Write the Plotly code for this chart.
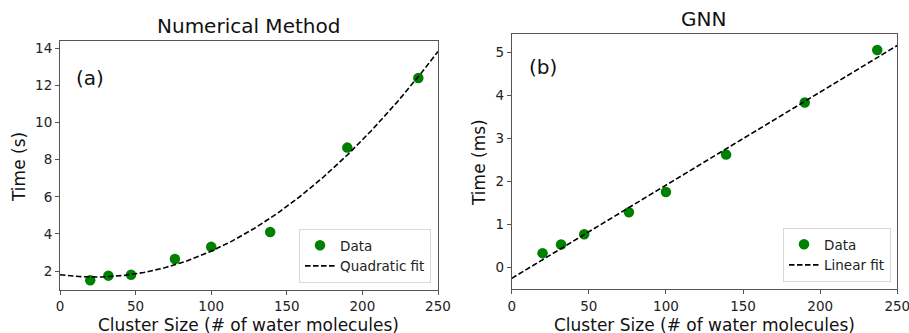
import numpy as np
import plotly.graph_objects as go

# ---- data ----
cluster_sizes = [20, 32, 47, 76, 100, 139, 190, 237]
numerical_time_s = [1.5, 1.75, 1.8, 2.65, 3.3, 4.1, 8.65, 12.4]
gnn_time_ms = [0.33, 0.53, 0.77, 1.28, 1.75, 2.62, 3.83, 5.05]
x_ticks = [0, 50, 100, 150, 200, 250]
y_ticks_a = [2, 4, 6, 8, 10, 12, 14]
y_ticks_b = [0, 1, 2, 3, 4, 5]

# fits derived from the data
xs = np.linspace(0, 250, 200)
quad = np.polyval(np.polyfit(cluster_sizes, numerical_time_s, 2), xs)
lin = np.polyval(np.polyfit(cluster_sizes, gnn_time_ms, 1), xs)

W, H = 909, 333
FONT = "DejaVu Sans"
GREEN = "#008000"
AX = "#555555"
DASH = "5.5px,2.5px"

def px_x(p):
    return p / W

def px_y(p):
    return 1 - p / H

fig = go.Figure()

fig.add_trace(go.Scatter(x=cluster_sizes, y=numerical_time_s, mode="markers",
                         marker=dict(color=GREEN, size=10.5), name="Data",
                         xaxis="x", yaxis="y", legend="legend"))
fig.add_trace(go.Scatter(x=xs, y=quad, mode="lines",
                         line=dict(color="black", dash=DASH, width=1.6),
                         name="Quadratic fit", xaxis="x", yaxis="y", legend="legend"))
fig.add_trace(go.Scatter(x=cluster_sizes, y=gnn_time_ms, mode="markers",
                         marker=dict(color=GREEN, size=10.5), name="Data",
                         xaxis="x2", yaxis="y2", legend="legend2"))
fig.add_trace(go.Scatter(x=xs, y=lin, mode="lines",
                         line=dict(color="black", dash=DASH, width=1.6),
                         name="Linear fit", xaxis="x2", yaxis="y2", legend="legend2"))

axis_common = dict(showgrid=False, zeroline=False, showline=True, linecolor=AX,
                   linewidth=1, mirror=True, ticks="outside", ticklen=4,
                   tickcolor=AX, automargin=False, ticklabeloverflow="allow",
                   tickfont=dict(family=FONT, size=13.5, color="#222"))

legend_common = dict(bgcolor="white", bordercolor="#d8d8d8", borderwidth=1,
                     font=dict(family=FONT, size=13.5, color="#222"),
                     xanchor="right", yanchor="bottom", tracegroupgap=0,
                     itemwidth=30)

fig.update_layout(
    template="none",
    width=W, height=H,
    margin=dict(l=0, r=0, t=0, b=0, autoexpand=False),
    paper_bgcolor="white", plot_bgcolor="white",
    xaxis=dict(domain=[px_x(60), px_x(438)], range=[0, 250], tickvals=x_ticks,
               anchor="y", **axis_common),
    yaxis=dict(domain=[px_y(290), px_y(40.7)], range=[0.976, 14.41], tickvals=y_ticks_a,
               anchor="x", **axis_common),
    xaxis2=dict(domain=[px_x(511.7), px_x(897.3)], range=[0, 250], tickvals=x_ticks,
                anchor="y2", **axis_common),
    yaxis2=dict(domain=[px_y(289.3), px_y(33.7)], range=[-0.51, 5.43], tickvals=y_ticks_b,
                anchor="x2", **axis_common),
    legend=dict(x=px_x(431), y=px_y(283), **legend_common),
    legend2=dict(x=px_x(891), y=px_y(282), **legend_common),
    showlegend=True,
)

ann = []
def text(x, y, s, size, angle=0, yanchor="middle"):
    ann.append(dict(x=px_x(x), y=px_y(y), xref="paper", yref="paper", text=s,
                    showarrow=False, xanchor="center", yanchor=yanchor,
                    textangle=angle, font=dict(family=FONT, size=size, color="#111")))

text(249, 26, "Numerical Method", 20)
text(703, 19, "GNN", 20)
text(249, 313, "Cluster Size (# of water molecules)", 17, yanchor="top")
text(704, 313, "Cluster Size (# of water molecules)", 17, yanchor="top")
text(19, 167, "Time (s)", 17, -90)
text(479, 163, "Time (ms)", 17, -90)
text(90, 78, "(a)", 20)
text(543, 67, "(b)", 20)
fig.update_layout(annotations=ann)

fig.write_html("out.html", config={"displayModeBar": False},
               post_script="document.body.style.margin='0';document.body.style.overflow='hidden';")
